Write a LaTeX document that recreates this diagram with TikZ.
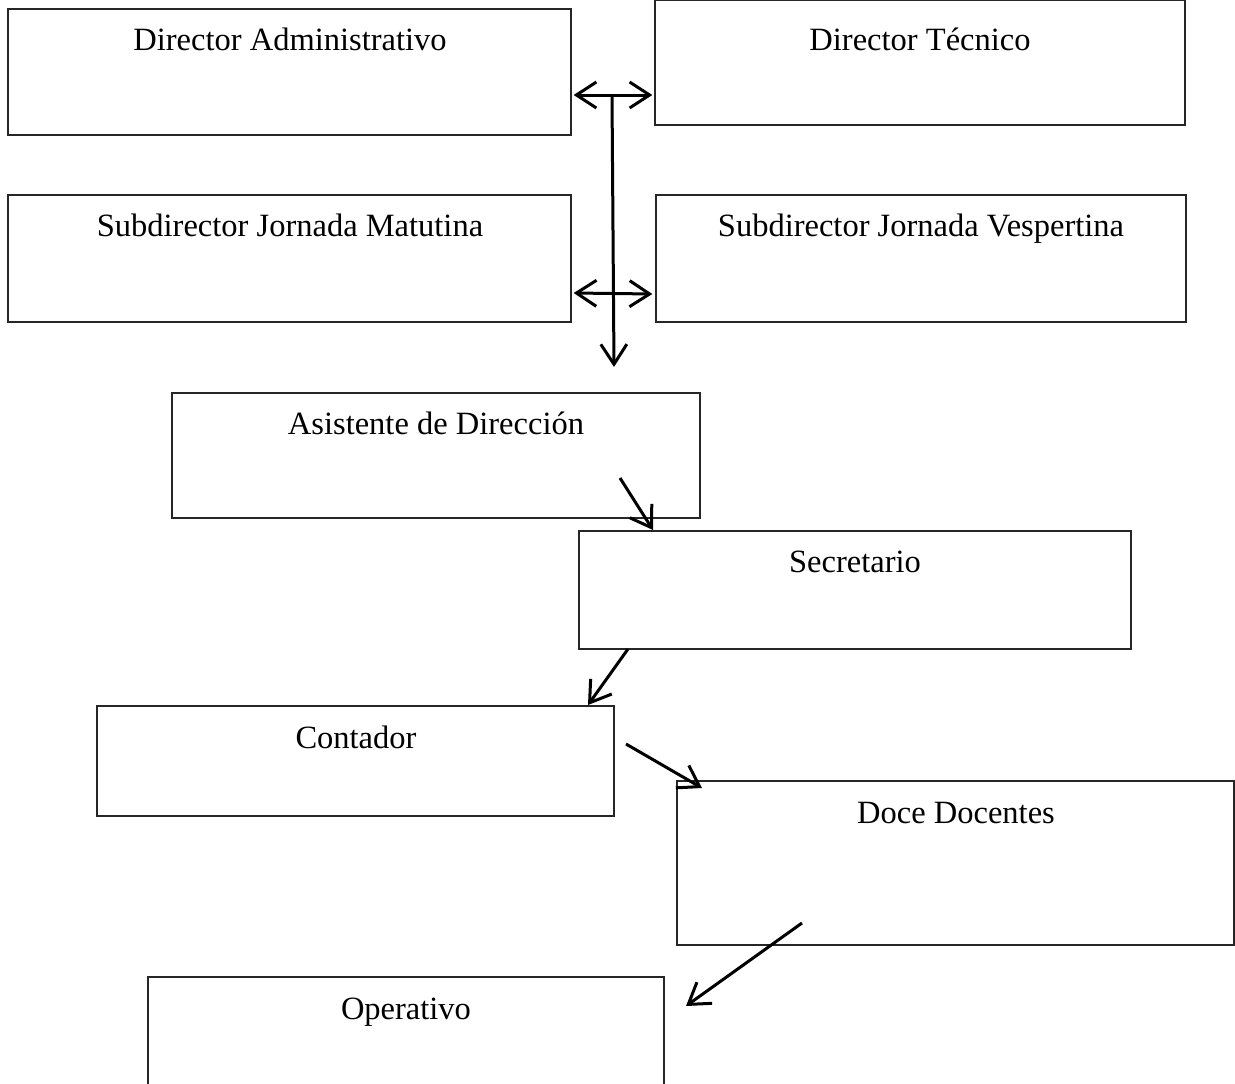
\documentclass[tikz,border=0pt]{standalone}
\usepackage{fontspec}
\setmainfont{Liberation Serif}
\usetikzlibrary{arrows.meta,fit}
\begin{document}
\begin{tikzpicture}[x=1pt,y=-1pt,
  box/.style={draw=black!85, line width=1.3pt, inner sep=0pt},
  lbl/.style={anchor=base, font=\fontsize{32.5}{38}\selectfont, inner sep=0pt},
  tip/.style={Straight Barb[length=20pt,width=26pt,line width=3pt]},
  conn/.style={line width=3pt, -{Straight Barb[length=20pt,width=26pt,line width=3pt]}},
  dconn/.style={line width=3pt, {Straight Barb[length=20pt,width=26pt,line width=3pt]}-{Straight Barb[length=20pt,width=26pt,line width=3pt]}}]
\useasboundingbox (0,0) rectangle (1235,1084);
% boxes
\node[box, fit={(8,9) (571,135)}] (da) {};
\node[box, fit={(655,0.7) (1185,125)}] (dt) {};
\node[box, fit={(8,195) (571,322)}] (sm) {};
\node[box, fit={(656,195) (1186,322)}] (sv) {};
\node[box, fit={(172,393) (700,518)}] (ad) {};
\node[box, fit={(579,531) (1131,649)}] (se) {};
\node[box, fit={(97,706) (614,816)}] (co) {};
\node[box, fit={(677,781) (1234,945)}] (dd) {};
\node[box, fit={(148,977) (664,1090)}] (op) {};
% labels
\node[lbl] (tda) at (290,50) {Director Administrativo};
\node[lbl] (tdt) at (920,50) {Director Técnico};
\node[lbl] (tsm) at (290,236) {Subdirector Jornada Matutina};
\node[lbl] (tsv) at (921,236) {Subdirector Jornada Vespertina};
\node[lbl] (tad) at (436,434) {Asistente de Dirección};
\node[lbl] (tse) at (855,572) {Secretario};
\node[lbl] (tco) at (356,748) {Contador};
\node[lbl] (tdd) at (956,823) {Doce Docentes};
\node[lbl] (top) at (406,1019) {Operativo};
% connector coordinates
\coordinate (h1l) at (da.east |- 0,95);
\coordinate (h1r) at (dt.west |- 0,95);
\coordinate (v1) at (612,95);
\coordinate (v2) at (614,367);
\coordinate (h2l) at (sm.east |- 0,293);
\coordinate (h2r) at (sv.west |- 0,294);
\coordinate (a1s) at (620,478);
\coordinate (a1e) at (653,530);
\coordinate (a2s) at (628,649);
\coordinate (a2e) at (588,705);
\coordinate (a3s) at (626,744);
\coordinate (a3e) at (702,788);
\coordinate (a4s) at (802,923);
\coordinate (a4e) at (686,1006);
% connectors
\draw[dconn] ([xshift=2pt]h1l) -- ([xshift=-2pt]h1r);
\draw[conn] (v1) -- (v2);
\draw[dconn] ([xshift=2pt]h2l) -- ([xshift=-3pt]h2r);
\draw[conn] (a1s) -- (a1e);
\draw[conn] (a2s) -- (a2e);
\draw[conn] (a3s) -- (a3e);
\draw[conn] (a4s) -- (a4e);
\end{tikzpicture}
\end{document}
